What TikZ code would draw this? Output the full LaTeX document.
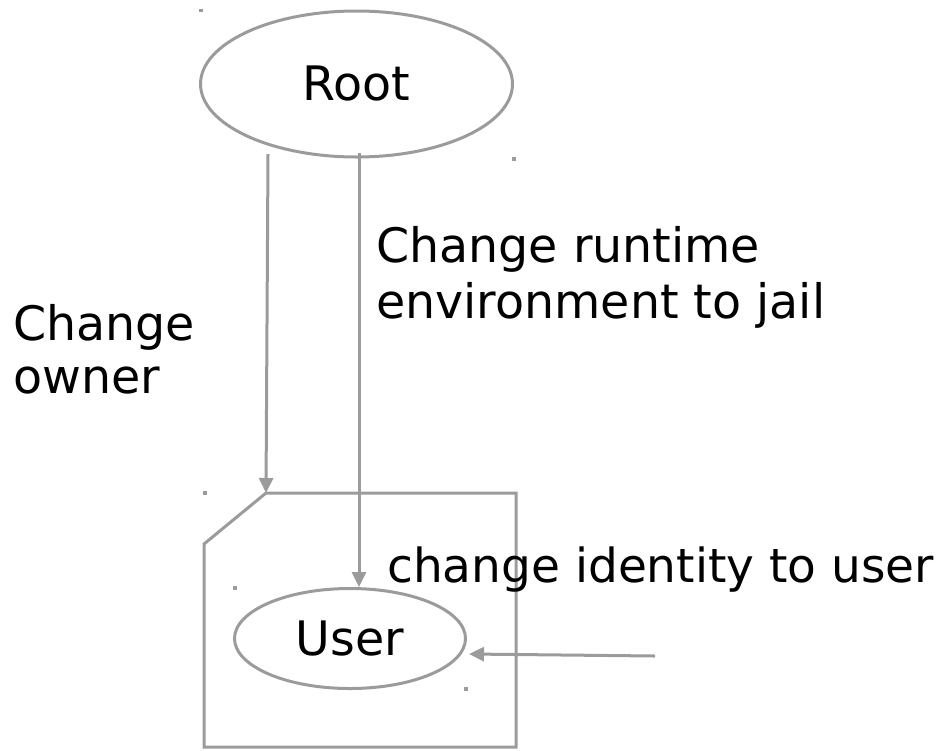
\documentclass[tikz,border=0pt]{standalone}
\usepackage{fontspec}
\setmainfont{DejaVu Sans}
\usetikzlibrary{arrows.meta,shapes.geometric}
\definecolor{lc}{RGB}{155,155,155}
\begin{document}
\begin{tikzpicture}[x=1pt,y=-1pt,
  ln/.style={draw=lc,line width=3pt},
  arr/.style={ln,-{Triangle[length=15pt,width=14pt]}},
  oval/.style={ellipse,draw=lc,line width=3pt,inner sep=0pt,font=\fontsize{47.5}{56}\selectfont},
  lbl/.style={anchor=base west,inner sep=0pt,font=\fontsize{47.5}{56}\selectfont},
  dotmark/.style={fill=lc,minimum size=3.5pt,inner sep=0pt,outer sep=0pt}]
\useasboundingbox (0,0) rectangle (949,750);
% nodes
\node[oval,minimum width=312pt,minimum height=146pt] (root) at (356.5,84) {Root};
\node[oval,minimum width=231pt,minimum height=100pt] (user) at (350,638.5) {User};
% jail box
\coordinate (boxtl) at (266,493);
\coordinate (boxtr) at (516,493);
\coordinate (boxbr) at (516,747);
\coordinate (boxbl) at (204,747);
\coordinate (boxcl) at (204,544);
\draw[ln] (boxtl) -- (boxtr) -- (boxbr) -- (boxbl) -- (boxcl) -- cycle;
% small marks
\node[dotmark] (d1) at (201,10.5) {};
\node[dotmark] (d2) at (514,159) {};
\node[dotmark] (d3) at (205,493) {};
\node[dotmark] (d4) at (235,588) {};
\node[dotmark] (d5) at (466,689) {};
% connectors
\coordinate (a1) at (268,154);
\draw[arr] (a1) -- (boxtl);
\coordinate (a2) at (359,153);
\draw[arr] (a2) -- (a2 |- user.north);
\coordinate (a3) at (655,656);
\coordinate (a3t) at (469,654);
\draw[arr] (a3) -- (a3t);
% labels
\node[lbl] (l1a) at (376,262) {Change runtime};
\node[lbl] (l1b) at (376,318) {environment to jail};
\node[lbl] (l2a) at (13,340) {Change};
\node[lbl] (l2b) at (13,393) {owner};
\node[lbl,font=\fontsize{47}{56}\selectfont] (l3) at (387,582) {change identity to user};
\end{tikzpicture}
\end{document}
